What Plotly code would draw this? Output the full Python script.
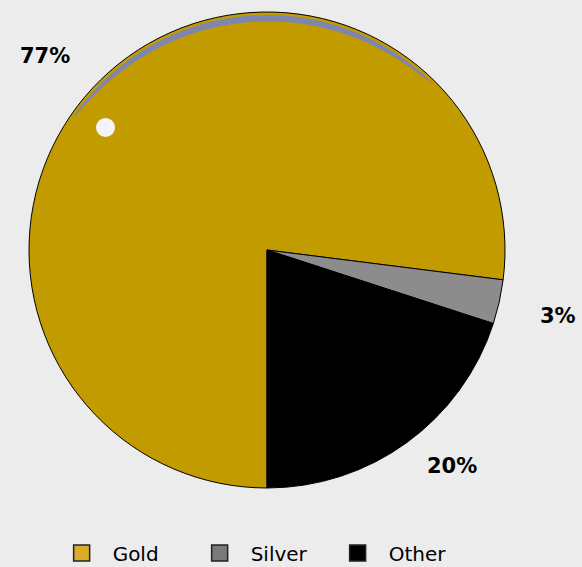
import numpy as np
import plotly.graph_objects as go

labels = ["Gold", "Silver", "Other"]
values = [77, 3, 20]
colors = ["#c29b00", "#8c8c8c", "#000000"]
legend_colors = ["#d9ad2a", "#7a7a7a", "#000000"]
label_text = ["77%", "3%", "20%"]
label_pos = [(0.077, 0.901), (0.959, 0.443), (0.777, 0.179)]

W, H = 582, 567
CX, CY, R = 267, 250, 238

fig = go.Figure()
fig.add_trace(go.Pie(
    labels=labels,
    values=values,
    sort=False,
    direction="clockwise",
    rotation=180,
    marker=dict(colors=colors, line=dict(color="#000000", width=1)),
    textinfo="none",
    hoverinfo="label+percent",
    showlegend=False,
    domain=dict(x=[(CX - R) / W, (CX + R) / W], y=[(H - CY - R) / H, (H - CY + R) / H]),
))

# legend entries
for name, c in zip(labels, legend_colors):
    fig.add_trace(go.Scatter(
        x=[None], y=[None], mode="markers", name=name,
        marker=dict(symbol="square", size=16, color=c, line=dict(color="#222222", width=1.5)),
    ))

for t, (x, y) in zip(label_text, label_pos):
    fig.add_annotation(text=t, x=x, y=y, xref="paper", yref="paper",
                       showarrow=False, xanchor="center", yanchor="middle",
                       font=dict(family="DejaVu Sans", size=21, color="#000000", weight="bold"))

# glossy highlight: thin crescent along the top edge and a small white dot
ang = np.linspace(np.radians(-56), np.radians(45), 80)
thick = 6.5 * np.sin((ang - ang[0]) / (ang[-1] - ang[0]) * np.pi) ** 0.5
outer_r = R - 3
pts_o = [(CX + outer_r * np.sin(a), CY - outer_r * np.cos(a)) for a in ang]
pts_i = [(CX + (outer_r - t) * np.sin(a), CY - (outer_r - t) * np.cos(a)) for a, t in zip(ang[::-1], thick[::-1])]
pts = pts_o + pts_i
path = "M " + " L ".join(f"{px / W:.5f},{1 - py / H:.5f}" for px, py in pts) + " Z"
fig.add_shape(type="path", path=path, xref="paper", yref="paper",
              fillcolor="#7f86ad", line=dict(width=0))
fig.add_shape(type="circle", xref="paper", yref="paper",
              x0=96 / W, x1=115 / W, y0=1 - 137 / H, y1=1 - 118 / H,
              fillcolor="#f4f4f8", line=dict(width=0))

fig.update_layout(
    width=W, height=H,
    margin=dict(l=0, r=0, t=0, b=0, autoexpand=False),
    paper_bgcolor="#ececec",
    plot_bgcolor="rgba(0,0,0,0)",
    font=dict(family="DejaVu Sans", color="#000000"),
    showlegend=True,
    xaxis=dict(visible=False),
    yaxis=dict(visible=False),
    legend=dict(orientation="h", x=0.087, xanchor="left", y=14 / H, yanchor="middle",
                font=dict(size=20), traceorder="normal", bgcolor="rgba(0,0,0,0)",
                itemwidth=52, entrywidth=71, entrywidthmode="pixels"),
)

fig.write_html("out.html")
